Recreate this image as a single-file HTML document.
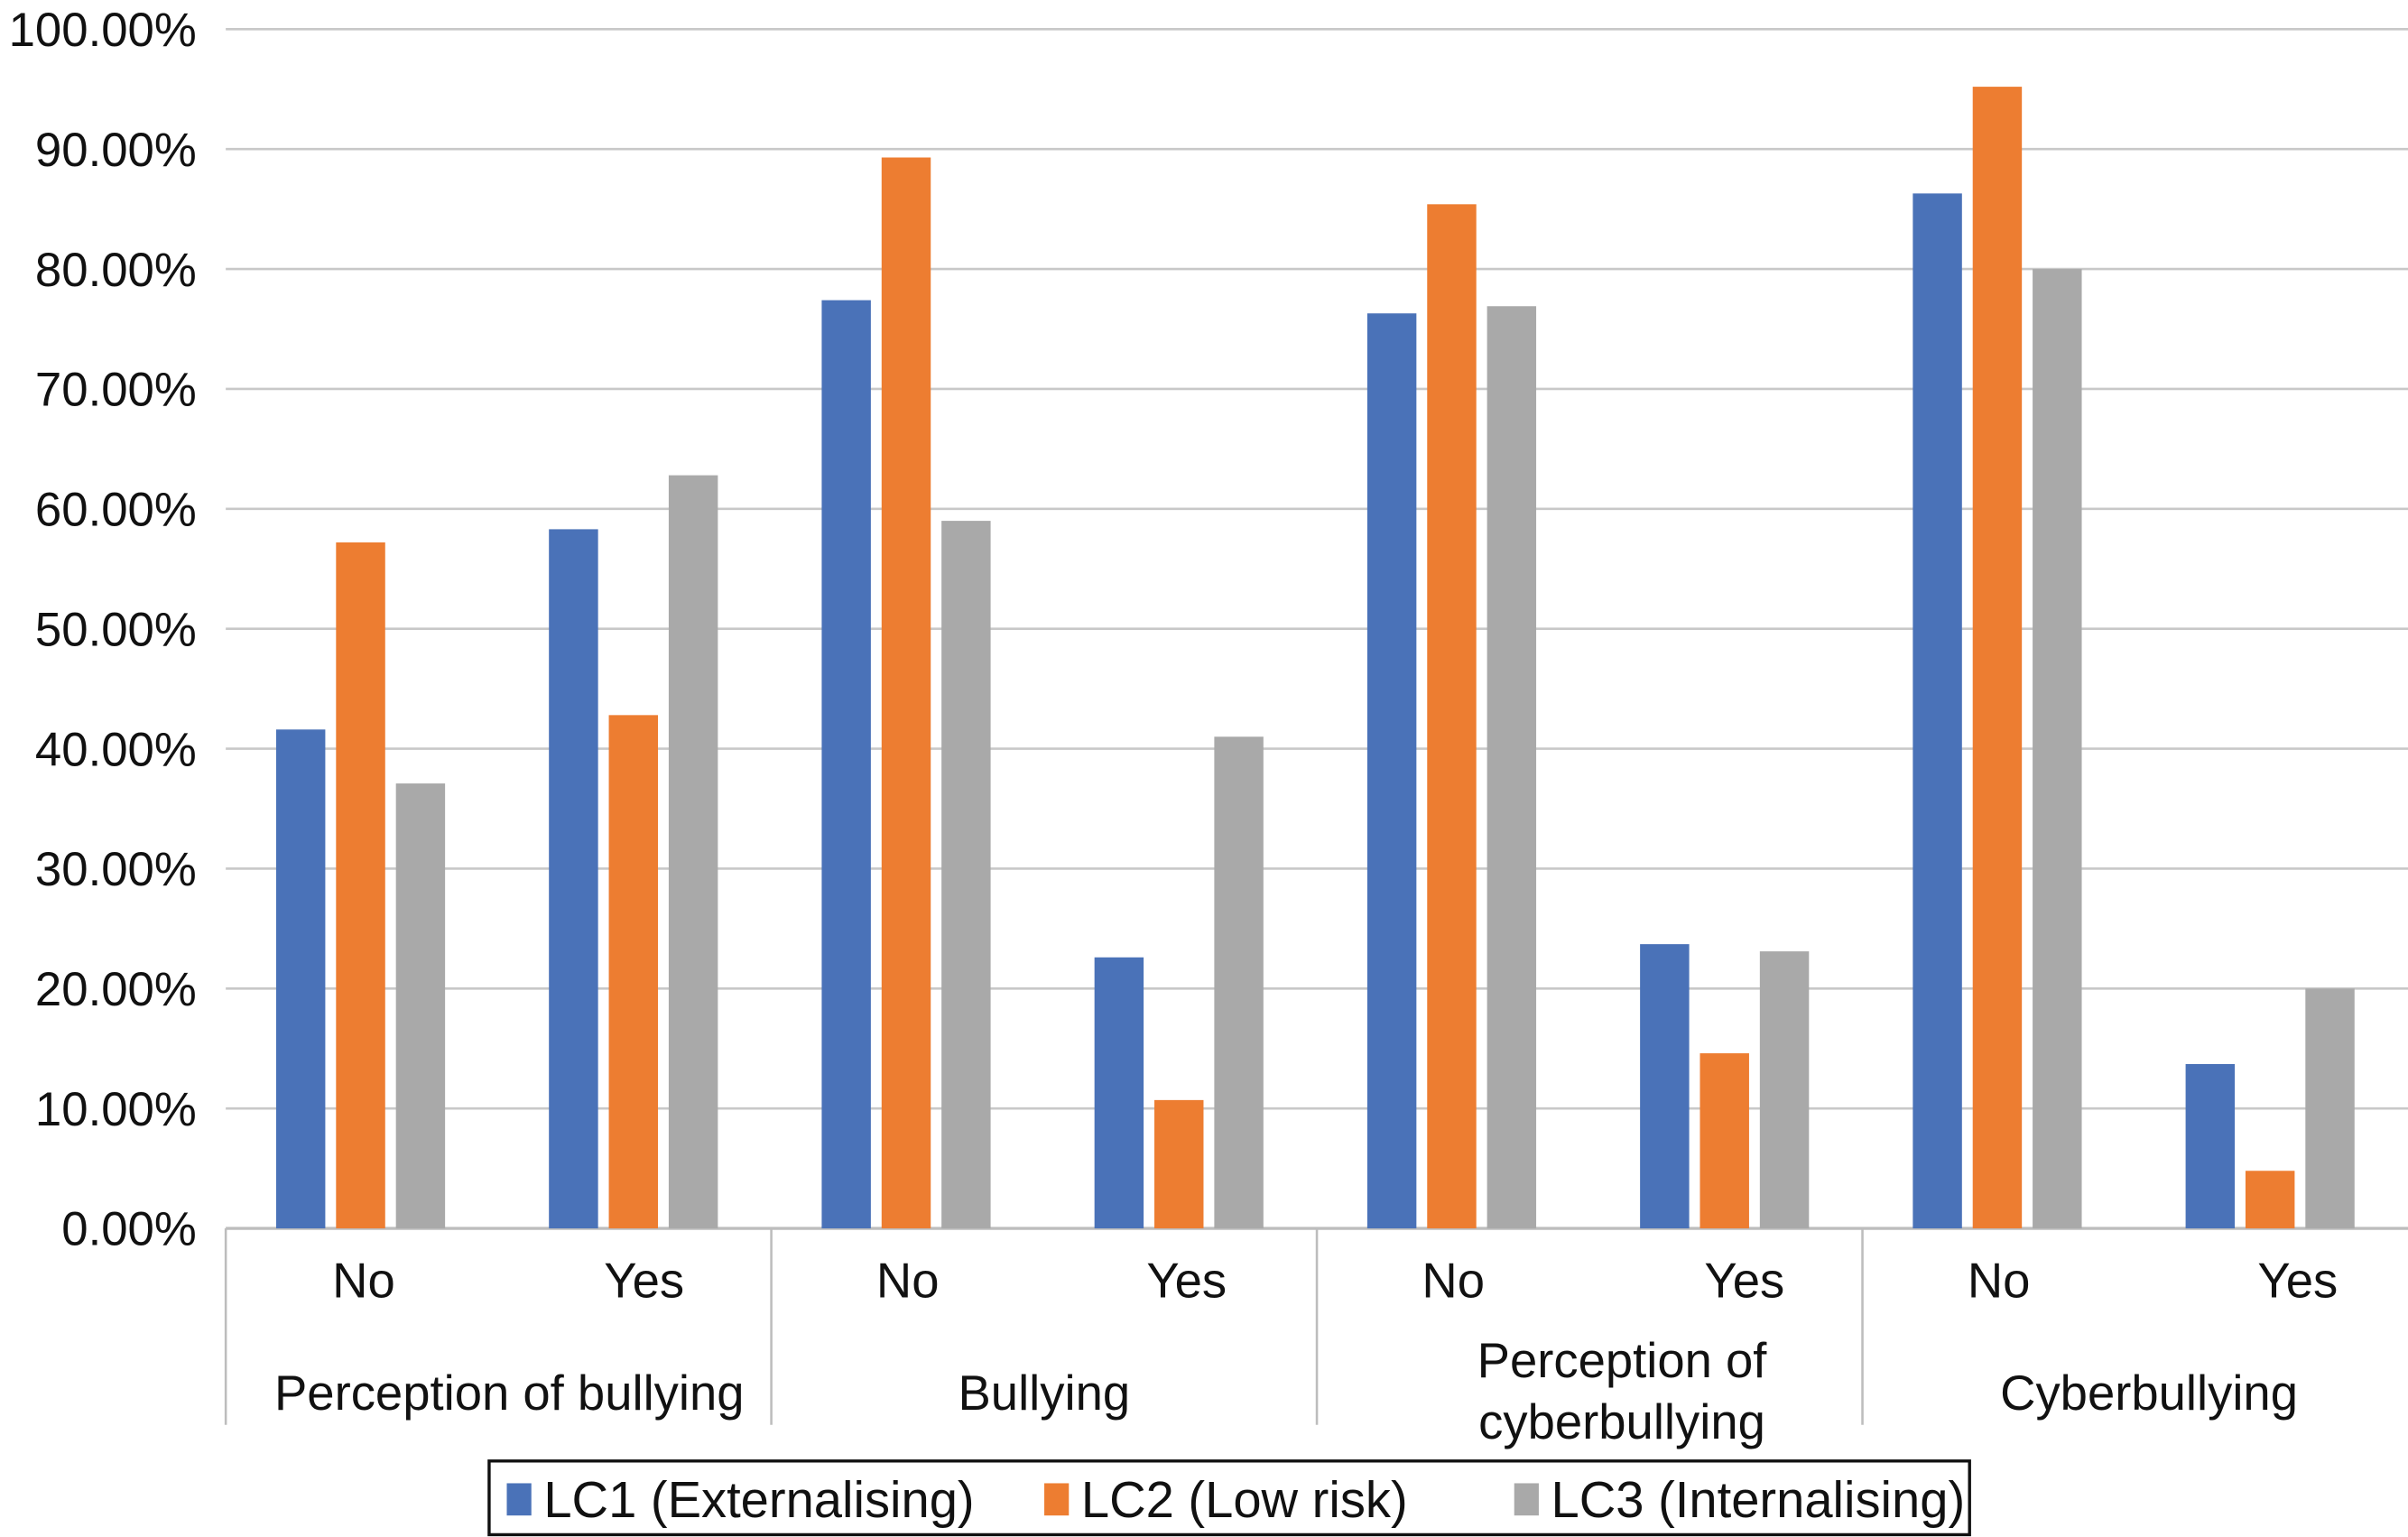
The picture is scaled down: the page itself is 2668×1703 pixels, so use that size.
<!DOCTYPE html>
<html><head><meta charset="utf-8"><style>
html,body{margin:0;padding:0;background:#fff}
svg{display:block}
text{font-family:"Liberation Sans Narrow","Liberation Sans",sans-serif;fill:#111}
</style></head><body>
<svg id="chart" width="2668" height="1703" viewBox="0 0 1568 1001" preserveAspectRatio="none" xmlns="http://www.w3.org/2000/svg">
<g id="grid"></g>
<g id="yaxis"></g>
<g id="bars"></g>
<g id="xaxis"></g>
<g id="legend">
  <rect x="318.5" y="951.5" width="964" height="48" fill="#fff" stroke="#111" stroke-width="2"/>
</g>
</svg>
<script>
const subCategories = ["No","Yes","No","Yes","No","Yes","No","Yes"];
const groupNames = [["Perception of bullying"],["Bullying"],["Perception of","cyberbullying"],["Cyberbullying"]];
const seriesNames = ["LC1 (Externalising)","LC2 (Low risk)","LC3 (Internalising)"];
const lc1 = [41.6,58.3,77.4,22.6,76.3,23.7,86.3,13.7];
const lc2 = [57.2,42.8,89.3,10.7,85.4,14.6,95.2,4.8];
const lc3 = [37.1,62.8,59.0,41.0,76.9,23.1,80.0,20.0];
const yTicks = [0,10,20,30,40,50,60,70,80,90,100];
const yTickLabels = ["0.00%","10.00%","20.00%","30.00%","40.00%","50.00%","60.00%","70.00%","80.00%","90.00%","100.00%"];

const NS="http://www.w3.org/2000/svg";
const colors=["#4a72b8","#ed7d31","#a9a9a9"];
const X0=147,X1=1568,Y0=800,Y1=19;
const y=v=>Y0-(v/100)*(Y0-Y1);
const catW=(X1-X0)/subCategories.length;
const xc=i=>X0+catW*(i+0.5);
function mk(tag,attrs,parent,txt){const e=document.createElementNS(NS,tag);for(const k in attrs)e.setAttribute(k,attrs[k]);if(txt!==undefined)e.textContent=txt;parent.appendChild(e);return e;}
const grid=document.getElementById('grid'),ya=document.getElementById('yaxis'),bars=document.getElementById('bars'),xa=document.getElementById('xaxis'),lg=document.getElementById('legend');
yTicks.forEach((t,i)=>{
  const l=mk('line',{x1:X0,x2:X1,y1:y(t),y2:y(t),stroke:t===0?'#bdbdbd':'#c8c8c8','stroke-width':t===0?2:1.5},grid);
  
  
  const tx=mk('text',{x:128,y:y(t)+11,'text-anchor':'end','font-size':31},ya,yTickLabels[i]);
  
  
});
const series=[lc1,lc2,lc3];
const bw=32,step=39;
const labOff=[1,6,0,4,0,12,0,17];
subCategories.forEach((c,i)=>{
  series.forEach((s,k)=>{
    const bx=xc(i)-56+k*step;
    const r=mk('rect',{x:bx,y:y(s[i]),width:bw,height:Y0-y(s[i]),fill:colors[k]},bars);
    
    
  });
  const t=mk('text',{x:xc(i)+labOff[i],y:845,'text-anchor':'middle','font-size':32},xa,c);
  
  
});
const gOff=[7,0,21,9];
groupNames.forEach((g,j)=>{
  const gx=X0+catW*2*j;
  const l=mk('line',{x1:gx,x2:gx,y1:Y0,y2:928,stroke:'#bdbdbd','stroke-width':1.5},xa);
  
  
  const cx=gx+catW+gOff[j];
  g.forEach((line,n)=>{
    const ty=g.length===1?918:897+n*40;
    const t=mk('text',{x:cx,y:ty,'text-anchor':'middle','font-size':32},xa,line);
    
    
  });
});
const lx=[330,680,986];
seriesNames.forEach((n,k)=>{
  const r=mk('rect',{x:lx[k],y:966,width:16,height:21,fill:colors[k]},lg);
  
  
  const t=mk('text',{x:lx[k]+24,y:988,'font-size':33},lg,n);
  
  
});
</script>
</body></html>
